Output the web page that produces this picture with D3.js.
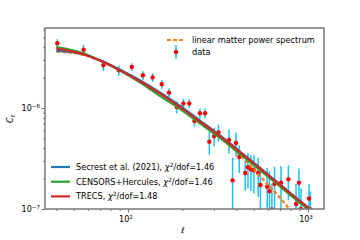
<!DOCTYPE html>
<html>
<head>
<meta charset="utf-8">
<script src="https://cdn.jsdelivr.net/npm/d3@7"></script>
<style>
  body { margin: 0; background: #fff; }
  text { font-family: "DejaVu Sans", sans-serif; fill: #000; }
</style>
</head>
<body>
<svg width="360" height="240"></svg>
<script>
// measured C_ell with errors
var ell = [40.5, 56.7, 73, 89, 105, 121, 137, 154, 169, 187, 203, 219, 234, 251, 268,
  283, 301, 318, 364, 381, 398, 415, 448, 464, 482, 501, 529, 544, 593, 611, 630,
  652, 708, 778, 858, 891, 914, 1013, 1031];
var cl = [4.38e-6, 3.78e-6, 2.65e-6, 2.36e-6, 2.55e-6, 2.11e-6, 2.01e-6, 1.72e-6, 1.42e-6,
  1.02e-6, 1.11e-6, 1.11e-6, 7.43e-7, 8.87e-7, 8.87e-7, 4.64e-7, 5.25e-7, 5.74e-7, 4.82e-7,
  1.92e-7, 4.5e-7, 3.27e-7, 2.27e-7, 2.59e-7, 2.46e-7, 2.42e-7, 2.27e-7, 1.73e-7, 1.66e-7,
  1.5e-7, 0.99e-7, 1.77e-7, 1.82e-7, 1.97e-7, 1.12e-7, 1.82e-7, 1.0e-7, 1.27e-7, 0.99e-7];
var clErr = [0.42e-6, 0.45e-6, 0.33e-6, 0.27e-6, 0.22e-6, 0.22e-6, 0.2e-6, 0.17e-6, 0.14e-6,
  0.14e-6, 0.12e-6, 0.11e-6, 0.9e-7, 1.0e-7, 1.0e-7, 1.2e-7, 1.1e-7, 1.1e-7, 1.3e-7,
  1.3e-7, 1.2e-7, 1.0e-7, 0.75e-7, 1.0e-7, 0.95e-7, 1.0e-7, 0.95e-7, 0.9e-7, 0.9e-7,
  0.85e-7, 0.8e-7, 0.85e-7, 0.85e-7, 0.75e-7, 0.65e-7, 0.7e-7, 0.6e-7, 0.5e-7, 0.5e-7];

// model curves
var modelEll = [40, 57, 73, 89, 117, 151, 195, 251, 324, 419, 541, 699, 903, 1040];
var secrest = [3.70e-6, 3.39e-6, 2.88e-6, 2.43e-6, 1.87e-6, 1.42e-6, 1.05e-6, 7.52e-7,
  5.35e-7, 3.71e-7, 2.55e-7, 1.75e-7, 1.20e-7, 0.989e-7];
var censors = [4.02e-6, 3.47e-6, 2.85e-6, 2.38e-6, 1.79e-6, 1.31e-6, 9.77e-7, 7.03e-7,
  5.05e-7, 3.51e-7, 2.43e-7, 1.67e-7, 1.15e-7, 0.945e-7];
var trecs = [3.88e-6, 3.39e-6, 2.85e-6, 2.40e-6, 1.83e-6, 1.39e-6, 1.02e-6, 7.35e-7,
  5.28e-7, 3.66e-7, 2.52e-7, 1.73e-7, 1.19e-7, 0.977e-7];
var linear = [3.62e-6, 3.35e-6, 2.85e-6, 2.40e-6, 1.85e-6, 1.41e-6, 1.02e-6, 7.35e-7,
  5.11e-7, 3.43e-7, 2.12e-7, 1.29e-7, 0.743e-7, 0.565e-7];

var xMajor = [100, 1000];
var xMinor = [40, 50, 60, 70, 80, 90, 200, 300, 400, 500, 600, 700, 800, 900];
var yMajor = [1e-7, 1e-6];
var yMinor = [2e-7, 3e-7, 4e-7, 5e-7, 6e-7, 7e-7, 8e-7, 9e-7, 2e-6, 3e-6, 4e-6, 5e-6, 6e-6];

var svg = d3.select("svg");
var pLeft = 45, pRight = 324, pTop = 28, pBottom = 209;

var x = d3.scaleLog().domain([34.6, 1227]).range([pLeft, pRight]);
var y = d3.scaleLog().domain([1e-7, 6.2e-6]).range([pBottom, pTop]);

svg.append("clipPath").attr("id", "plotClip")
  .append("rect")
    .attr("x", pLeft).attr("y", pTop)
    .attr("width", pRight - pLeft).attr("height", pBottom - pTop);

var plot = svg.append("g").attr("clip-path", "url(#plotClip)");

var data = ell.map((e, i) => ({ l: e, c: cl[i], s: clErr[i] }));

// error bars
plot.selectAll("line.err").data(data).enter()
  .append("line")
    .attr("class", "err")
    .attr("x1", d => x(d.l)).attr("x2", d => x(d.l))
    .attr("y1", d => y(d.c + d.s))
    .attr("y2", d => y(Math.max(d.c - d.s, 1e-9)))
    .style("stroke", "#1ec0f5")
    .style("stroke-width", 1.5);

plot.selectAll("circle.pt").data(data).enter()
  .append("circle")
    .attr("class", "pt")
    .attr("cx", d => x(d.l))
    .attr("cy", d => y(d.c))
    .attr("r", 2.2)
    .style("fill", "#ff0000");

var line = d3.line()
  .x(d => x(d[0]))
  .y(d => y(d[1]))
  .curve(d3.curveMonotoneX);

var curves = [
  { v: linear, color: "#ff7f0e", dash: "4,2" },
  { v: secrest, color: "#1f77b4" },
  { v: censors, color: "#2ca02c" },
  { v: trecs, color: "#d62728" }
];

curves.forEach(c => {
  plot.append("path")
    .datum(modelEll.map((e, i) => [e, c.v[i]]))
    .attr("d", line)
    .style("fill", "none")
    .style("stroke", c.color)
    .style("stroke-width", 2.2)
    .style("stroke-dasharray", c.dash || null);
});

// axes
var axisColor = "#777";

svg.append("rect")
  .attr("x", pLeft).attr("y", pTop)
  .attr("width", pRight - pLeft).attr("height", pBottom - pTop)
  .style("fill", "none")
  .style("stroke", axisColor)
  .style("stroke-width", 1.5);

var xAxis = svg.append("g").attr("transform", `translate(0,${pBottom})`);
xAxis.call(d3.axisBottom(x).tickValues(xMajor).tickSize(3.5).tickFormat(""));
xAxis.append("g").call(d3.axisBottom(x).tickValues(xMinor).tickSize(2).tickFormat(""));
xAxis.selectAll(".domain").remove();
xAxis.selectAll("line").style("stroke", axisColor);

var yAxis = svg.append("g").attr("transform", `translate(${pLeft},0)`);
yAxis.call(d3.axisLeft(y).tickValues(yMajor).tickSize(3.5).tickFormat(""));
yAxis.append("g").call(d3.axisLeft(y).tickValues(yMinor).tickSize(2).tickFormat(""));
yAxis.selectAll(".domain").remove();
yAxis.selectAll("line").style("stroke", axisColor);

// tick labels
xMajor.forEach(v => {
  var t = svg.append("text")
    .attr("x", x(v) - 2).attr("y", pBottom + 13)
    .style("font-size", "8px")
    .style("text-anchor", "middle");
  t.append("tspan").text("10");
  t.append("tspan").attr("dy", -3.5).style("font-size", "5.6px").text(Math.round(Math.log10(v)));
});

yMajor.forEach(v => {
  var t = svg.append("text")
    .attr("x", pLeft - 5).attr("y", y(v) + 3)
    .style("font-size", "8px")
    .style("text-anchor", "end");
  t.append("tspan").text("10");
  t.append("tspan").attr("dy", -3.5).style("font-size", "5.6px").text("\u2212" + Math.round(-Math.log10(v)));
});

// axis titles
svg.append("text")
  .attr("x", 183).attr("y", 233)
  .style("font-size", "8px")
  .style("font-style", "italic")
  .style("text-anchor", "middle")
  .text("\u2113");

var yl = svg.append("text")
  .attr("transform", "translate(13,119) rotate(-90)")
  .style("font-size", "8px")
  .style("text-anchor", "middle");
yl.append("tspan").style("font-style", "italic").text("C");
yl.append("tspan").attr("dy", 2).style("font-size", "5.6px").style("font-style", "italic").text("\u2113");

// legend top right
var lg1 = svg.append("g");
lg1.append("line")
  .attr("x1", 167).attr("x2", 184).attr("y1", 40).attr("y2", 40)
  .style("stroke", "#ff7f0e").style("stroke-width", 2.2)
  .style("stroke-dasharray", "4,2");
lg1.append("text").attr("x", 192).attr("y", 40).attr("dy", "0.35em")
  .style("font-size", "8.2px").text("linear matter power spectrum");
lg1.append("line")
  .attr("x1", 176).attr("x2", 176).attr("y1", 45).attr("y2", 59)
  .style("stroke", "#1ec0f5").style("stroke-width", 1.5);
lg1.append("circle").attr("cx", 176).attr("cy", 52).attr("r", 2.2).style("fill", "#ff0000");
lg1.append("text").attr("x", 192).attr("y", 52).attr("dy", "0.35em")
  .style("font-size", "8.2px").text("data");

// legend bottom left
var lg2 = [
  { color: "#1f77b4", name: "Secrest et al. (2021), ", chi: "1.46" },
  { color: "#2ca02c", name: "CENSORS+Hercules, ", chi: "1.46" },
  { color: "#d62728", name: "TRECS, ", chi: "1.48" }
];
lg2.forEach((d, i) => {
  var yy = 167 + i * 14.7;
  svg.append("line")
    .attr("x1", 51).attr("x2", 70).attr("y1", yy).attr("y2", yy)
    .style("stroke", d.color).style("stroke-width", 2.2);
  var t = svg.append("text").attr("x", 76).attr("y", yy).attr("dy", "0.35em")
    .style("font-size", "8.2px");
  t.append("tspan").text(d.name);
  t.append("tspan").style("font-style", "italic").text("\u03c7");
  t.append("tspan").attr("dy", -3).style("font-size", "5.8px").text("2");
  t.append("tspan").attr("dy", 3).text("/dof=" + d.chi);
});
</script>
</body>
</html>
